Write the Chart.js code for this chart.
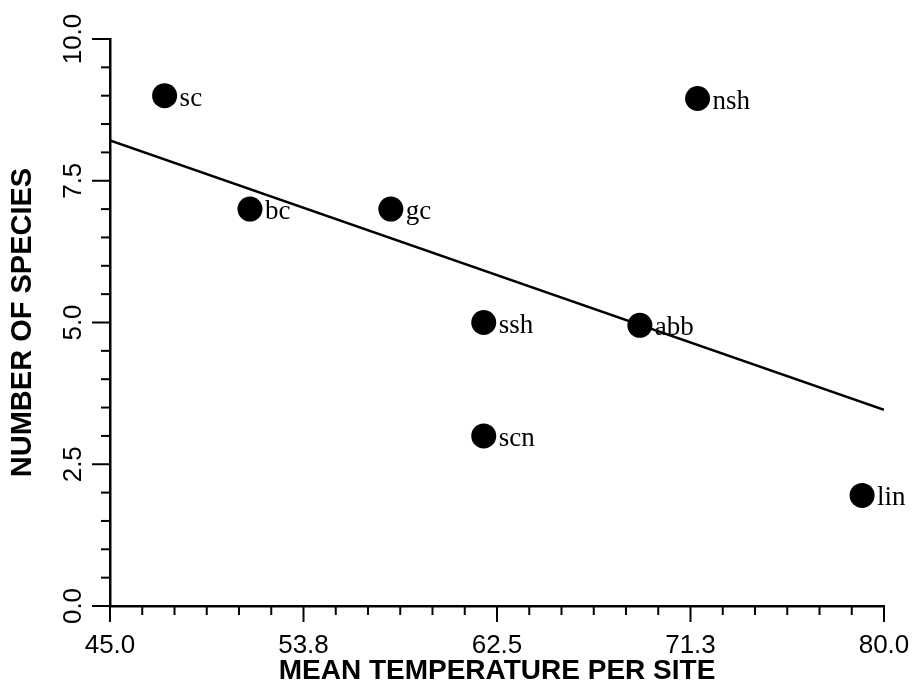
<!DOCTYPE html>
<html><head><meta charset="utf-8">
<script src="https://cdn.jsdelivr.net/npm/chart.js@4.4.1/dist/chart.umd.min.js"></script>
<style>html,body{margin:0;padding:0;background:#fff;}#wrap{width:916px;height:698px;}</style>
</head><body><div id="wrap"><canvas id="c" width="916" height="698"></canvas></div>
<script>
const siteNames = ['sc','bc','gc','ssh','scn','abb','nsh','lin'];
const meanTemperature = [47.47, 51.33, 57.70, 61.90, 61.90, 68.96, 71.57, 79.01];
const speciesCount = [9.0, 7.0, 7.0, 5.0, 3.0, 4.95, 8.95, 1.95];
const fitX = [45.0, 80.0];
const fitY = [8.21, 3.46];
const xTickValues = [45.0, 53.75, 62.5, 71.25, 80.0];
const xTickLabels = ['45.0','53.8','62.5','71.3','80.0'];
const yTickValues = [0, 2.5, 5, 7.5, 10];
const yTickLabels = ['0.0','2.5','5.0','7.5','10.0'];
const xTitle = 'MEAN TEMPERATURE PER SITE';
const yTitle = 'NUMBER OF SPECIES';

const SANS = '"Liberation Sans", Arial, sans-serif';
const SERIF = '"Liberation Serif", "Times New Roman", serif';

const axisTicks = {
  id: 'axisTicks',
  afterDraw(chart) {
    const {ctx, chartArea: a} = chart;
    const x = chart.scales.x, y = chart.scales.y;
    ctx.save();
    ctx.strokeStyle = '#000';
    ctx.lineWidth = 2;
    const xStep = (x.max - x.min) / 24;
    for (let i = 0; i <= 24; i++) {
      const px = x.getPixelForValue(x.min + i * xStep);
      const len = (i % 6 === 0) ? 16 : 9;
      ctx.beginPath(); ctx.moveTo(px, a.bottom); ctx.lineTo(px, a.bottom + len); ctx.stroke();
    }
    const yStep = (y.max - y.min) / 20;
    for (let i = 0; i <= 20; i++) {
      const py = y.getPixelForValue(y.min + i * yStep);
      const len = (i % 5 === 0) ? 18 : 9;
      ctx.beginPath(); ctx.moveTo(a.left, py); ctx.lineTo(a.left - len, py); ctx.stroke();
    }
    ctx.restore();
  }
};

const pointLabels = {
  id: 'pointLabels',
  afterDatasetsDraw(chart) {
    const {ctx} = chart;
    const meta = chart.getDatasetMeta(0);
    ctx.save();
    ctx.fillStyle = '#000';
    ctx.font = '27px ' + SERIF;
    ctx.textAlign = 'left';
    ctx.textBaseline = 'alphabetic';
    meta.data.forEach((el, i) => {
      ctx.fillText(siteNames[i], el.x + 15, el.y + 10);
    });
    ctx.restore();
  }
};

new Chart(document.getElementById('c'), {
  type: 'scatter',
  data: {
    datasets: [
      {
        label: 'sites',
        data: meanTemperature.map((t, i) => ({x: t, y: speciesCount[i]})),
        backgroundColor: '#000',
        borderWidth: 0,
        pointRadius: 12.5,
        pointHoverRadius: 12.5,
        order: 0
      },
      {
        label: 'fit',
        type: 'line',
        data: fitX.map((t, i) => ({x: t, y: fitY[i]})),
        borderColor: '#000',
        borderWidth: 2.5,
        pointRadius: 0,
        fill: false,
        order: 1
      }
    ]
  },
  options: {
    responsive: false,
    animation: false,
    events: [],
    layout: {padding: {left: 0, top: 39, right: 32, bottom: 0}},
    plugins: {legend: {display: false}, tooltip: {enabled: false}},
    scales: {
      x: {
        type: 'linear', min: 45, max: 80,
        afterBuildTicks: s => { s.ticks = xTickValues.map(v => ({value: v})); },
        afterFit: s => { s.height = 92; s.paddingLeft = 0; s.paddingRight = 0; },
        grid: {display: false, drawTicks: false},
        border: {display: true, color: '#000', width: 2.5},
        ticks: {
          padding: 24, color: '#000', maxRotation: 0, autoSkip: false,
          font: {family: SANS, size: 26},
          callback: (v, i) => xTickLabels[i]
        },
        title: {display: true, text: xTitle, color: '#000',
          font: {family: SANS, size: 28, weight: 'bold'}, padding: {top: 0, bottom: 10}}
      },
      y: {
        type: 'linear', min: 0, max: 10,
        afterBuildTicks: s => { s.ticks = yTickValues.map(v => ({value: v})); },
        afterFit: s => { s.width = 110; s.paddingTop = 0; s.paddingBottom = 0; },
        grid: {display: false, drawTicks: false},
        border: {display: true, color: '#000', width: 2.5},
        ticks: {
          padding: 11, color: '#000', minRotation: 90, maxRotation: 90,
          crossAlign: 'center', autoSkip: false,
          font: {family: SANS, size: 26},
          callback: (v, i) => yTickLabels[i]
        },
        title: {display: true, text: yTitle, color: '#000',
          font: {family: SANS, size: 29, weight: 'bold'}, padding: {top: 6, bottom: 0}}
      }
    }
  },
  plugins: [axisTicks, pointLabels]
});
</script>
</body></html>
